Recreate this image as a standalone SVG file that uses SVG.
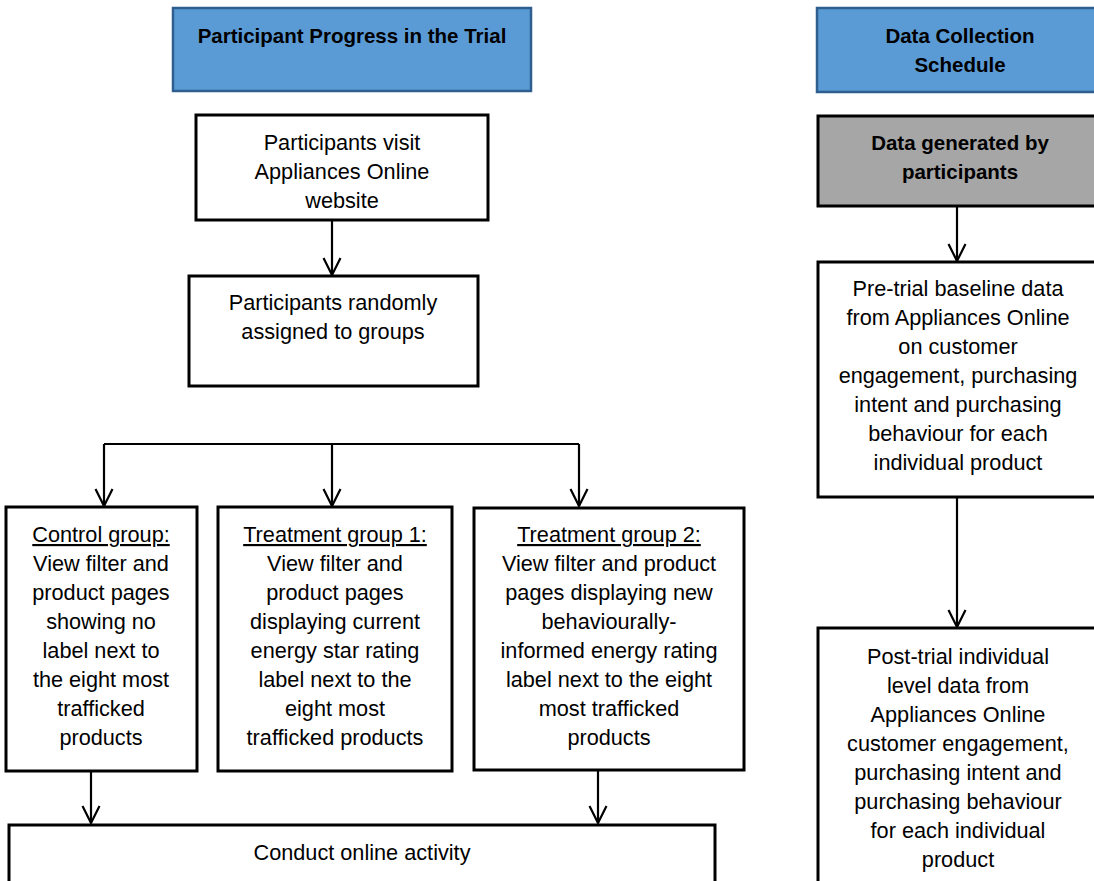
<svg xmlns="http://www.w3.org/2000/svg" width="1094" height="881" viewBox="0 0 1094 881">
  <style>
    text { font-family: "Liberation Sans", Arial, sans-serif; font-size: 21.7px; fill: #000; text-anchor: middle; }
    .hdr { fill: #5B9BD5; stroke: #2F5F8F; stroke-width: 2.5; }
    .gray { fill: #A6A6A6; stroke: #000; stroke-width: 3; }
    .box { fill: #fff; stroke: #000; stroke-width: 3; }
    .bold { font-weight: bold; font-size: 20.5px; }
    .conn { fill: none; stroke: #000; stroke-width: 2.2; }
  </style>
  <defs>
    <marker id="arr" markerUnits="userSpaceOnUse" orient="auto" markerWidth="24" markerHeight="24" viewBox="-20 -12 24 24" refX="0" refY="0" overflow="visible">
      <path d="M-17,-8.5 L0,0 L-17,8.5" fill="none" stroke="#000" stroke-width="2.2"/>
    </marker>
  </defs>
  <rect width="1094" height="881" fill="#fff"/>

  <g id="connectors">
    <path class="conn" d="M332,220 V275" marker-end="url(#arr)"/>
    <path class="conn" d="M104,444 H579"/>
    <path class="conn" d="M104,444 V506" marker-end="url(#arr)"/>
    <path class="conn" d="M332,444 V506" marker-end="url(#arr)"/>
    <path class="conn" d="M579,444 V506" marker-end="url(#arr)"/>
    <path class="conn" d="M91,771 V823" marker-end="url(#arr)"/>
    <path class="conn" d="M598,770 V823" marker-end="url(#arr)"/>
    <path class="conn" d="M957,206 V261" marker-end="url(#arr)"/>
    <path class="conn" d="M957,497 V627" marker-end="url(#arr)"/>
  </g>

  <g id="header-progress">
    <rect class="hdr" x="173" y="8" width="358" height="83"/>
    <text class="bold" x="352" y="43">Participant Progress in the Trial</text>
  </g>

  <g id="header-schedule">
    <rect class="hdr" x="817" y="8" width="300" height="84"/>
    <text class="bold" x="960" y="43">Data Collection</text>
    <text class="bold" x="960" y="72">Schedule</text>
  </g>

  <g id="data-generated">
    <rect class="gray" x="818" y="116" width="300" height="90"/>
    <text class="bold" x="960" y="150">Data generated by</text>
    <text class="bold" x="960" y="179">participants</text>
  </g>

  <g id="visit">
    <rect class="box" x="196" y="115" width="292" height="105"/>
    <text x="342" y="150">Participants visit</text>
    <text x="342" y="179">Appliances Online</text>
    <text x="342" y="208">website</text>
  </g>

  <g id="assigned">
    <rect class="box" x="189" y="276" width="289" height="110"/>
    <text x="333" y="310">Participants randomly</text>
    <text x="333" y="339">assigned to groups</text>
  </g>

  <g id="control">
    <rect class="box" x="6" y="507" width="191" height="264"/>
    <text x="101" y="542" text-decoration="underline">Control group:</text>
    <text x="101" y="571">View filter and</text>
    <text x="101" y="600">product pages</text>
    <text x="101" y="629">showing no</text>
    <text x="101" y="658">label next to</text>
    <text x="101" y="687">the eight most</text>
    <text x="101" y="716">trafficked</text>
    <text x="101" y="745">products</text>
  </g>

  <g id="treatment1">
    <rect class="box" x="218" y="507" width="234" height="264"/>
    <text x="335" y="542" text-decoration="underline">Treatment group 1:</text>
    <text x="335" y="571">View filter and</text>
    <text x="335" y="600">product pages</text>
    <text x="335" y="629">displaying current</text>
    <text x="335" y="658">energy star rating</text>
    <text x="335" y="687">label next to the</text>
    <text x="335" y="716">eight most</text>
    <text x="335" y="745">trafficked products</text>
  </g>

  <g id="treatment2">
    <rect class="box" x="474" y="508" width="270" height="262"/>
    <text x="609" y="542" text-decoration="underline">Treatment group 2:</text>
    <text x="609" y="571">View filter and product</text>
    <text x="609" y="600">pages displaying new</text>
    <text x="609" y="629">behaviourally-</text>
    <text x="609" y="658">informed energy rating</text>
    <text x="609" y="687">label next to the eight</text>
    <text x="609" y="716">most trafficked</text>
    <text x="609" y="745">products</text>
  </g>

  <g id="conduct">
    <rect class="box" x="9" y="825" width="706" height="80"/>
    <text x="362" y="860">Conduct online activity</text>
  </g>

  <g id="pretrial">
    <rect class="box" x="818" y="262" width="300" height="235"/>
    <text x="958" y="296">Pre-trial baseline data</text>
    <text x="958" y="325">from Appliances Online</text>
    <text x="958" y="354">on customer</text>
    <text x="958" y="383">engagement, purchasing</text>
    <text x="958" y="412">intent and purchasing</text>
    <text x="958" y="441">behaviour for each</text>
    <text x="958" y="470">individual product</text>
  </g>

  <g id="posttrial">
    <rect class="box" x="818" y="628" width="300" height="280"/>
    <text x="958" y="664">Post-trial individual</text>
    <text x="958" y="693">level data from</text>
    <text x="958" y="722">Appliances Online</text>
    <text x="958" y="751">customer engagement,</text>
    <text x="958" y="780">purchasing intent and</text>
    <text x="958" y="809">purchasing behaviour</text>
    <text x="958" y="838">for each individual</text>
    <text x="958" y="867">product</text>
  </g>
</svg>
